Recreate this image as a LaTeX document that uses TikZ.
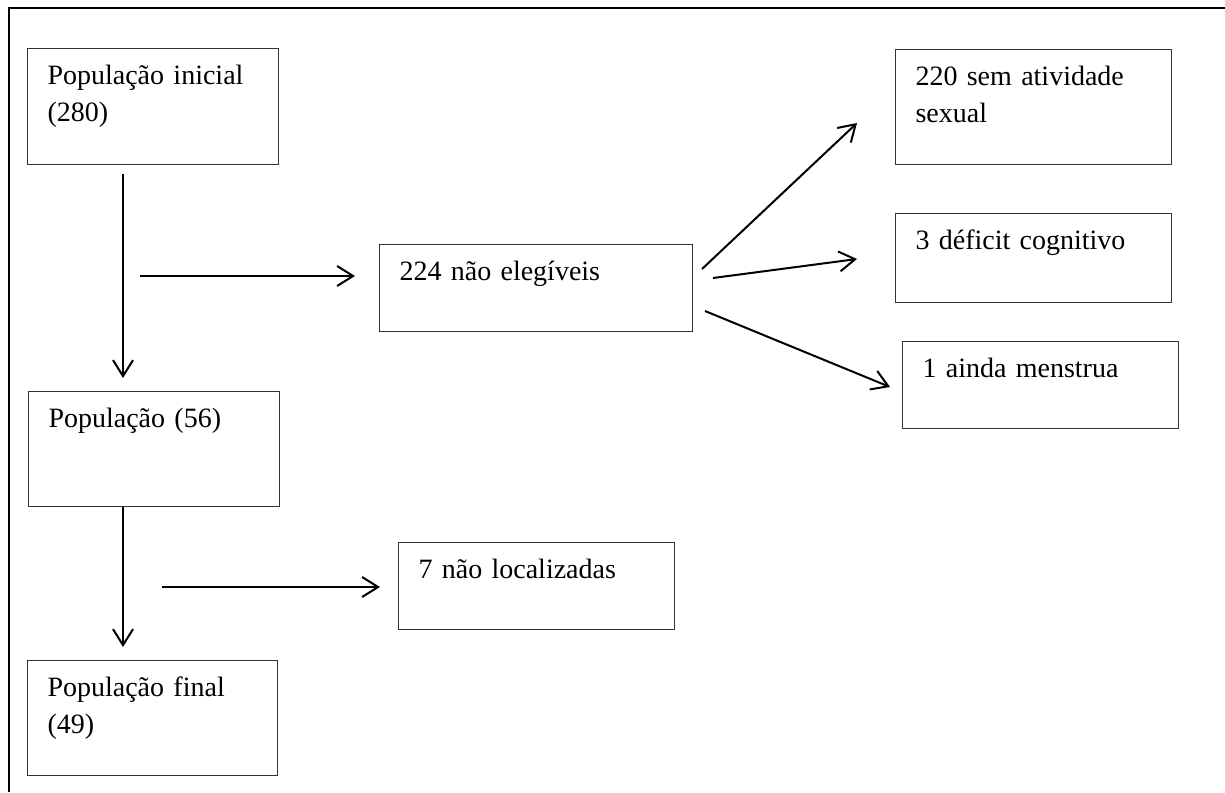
\documentclass[tikz,border=0pt]{standalone}
\usepackage{fontspec}
\setmainfont{Liberation Serif}
\usetikzlibrary{arrows.meta}

\begin{document}
\begin{tikzpicture}[
  x=1pt, y=-1pt,
  box/.style={draw=black!80, line width=1pt, anchor=north west, align=left,
    inner xsep=20pt, inner ysep=0pt, text height=36pt,
    font=\fontsize{28}{37}\selectfont},
  tall/.style={text depth=79pt},
  short/.style={text depth=51pt},
  arrow/.style={-{Straight Barb[length=16pt, width=20pt]}, line width=2pt}
]
\useasboundingbox (0,0) rectangle (1225,792);
\draw[line width=2pt] (1225,8) -- (9,8) -- (9,792);

\node[box, tall, text width=211pt, text depth=80pt] (ini) at (27,48) {População inicial\\(280)};
\node[box, tall, text width=211pt] (pop) at (28,391) {População (56)};
\node[box, tall, text width=210pt] (fin) at (27,660) {População final\\(49)};
\node[box, short, text width=273pt] (elig) at (379,244) {224 não elegíveis};
\node[box, tall, text width=236pt] (sex) at (895,49) {220 sem atividade\\sexual};
\node[box, short, text width=236pt, text depth=53pt] (cog) at (895,213) {3 déficit cognitivo};
\node[box, short, text width=236pt] (men) at (902,341) {1 ainda menstrua};
\node[box, short, text width=236pt] (loc) at (398,542) {7 não localizadas};

\coordinate (v1s) at (123,174);
\coordinate (v1e) at (123,378);
\coordinate (h1s) at (140,276);
\coordinate (h1e) at (355,276);
\coordinate (d1s) at (702,269);
\coordinate (d1e) at (857,123);
\coordinate (d2s) at (713,278);
\coordinate (d2e) at (857,259);
\coordinate (d3s) at (705,311);
\coordinate (d3e) at (890,387);
\coordinate (v2e) at (123,647);
\coordinate (h2s) at (162,587);
\coordinate (h2e) at (380,587);

\draw[arrow] (v1s) -- (v1e);
\draw[arrow] (h1s) -- (h1e);
\draw[arrow] (d1s) -- (d1e);
\draw[arrow] (d2s) -- (d2e);
\draw[arrow] (d3s) -- (d3e);
\draw[arrow] (pop.south west -| v2e) -- (v2e);
\draw[arrow] (h2s) -- (h2e);
\end{tikzpicture}
\end{document}
